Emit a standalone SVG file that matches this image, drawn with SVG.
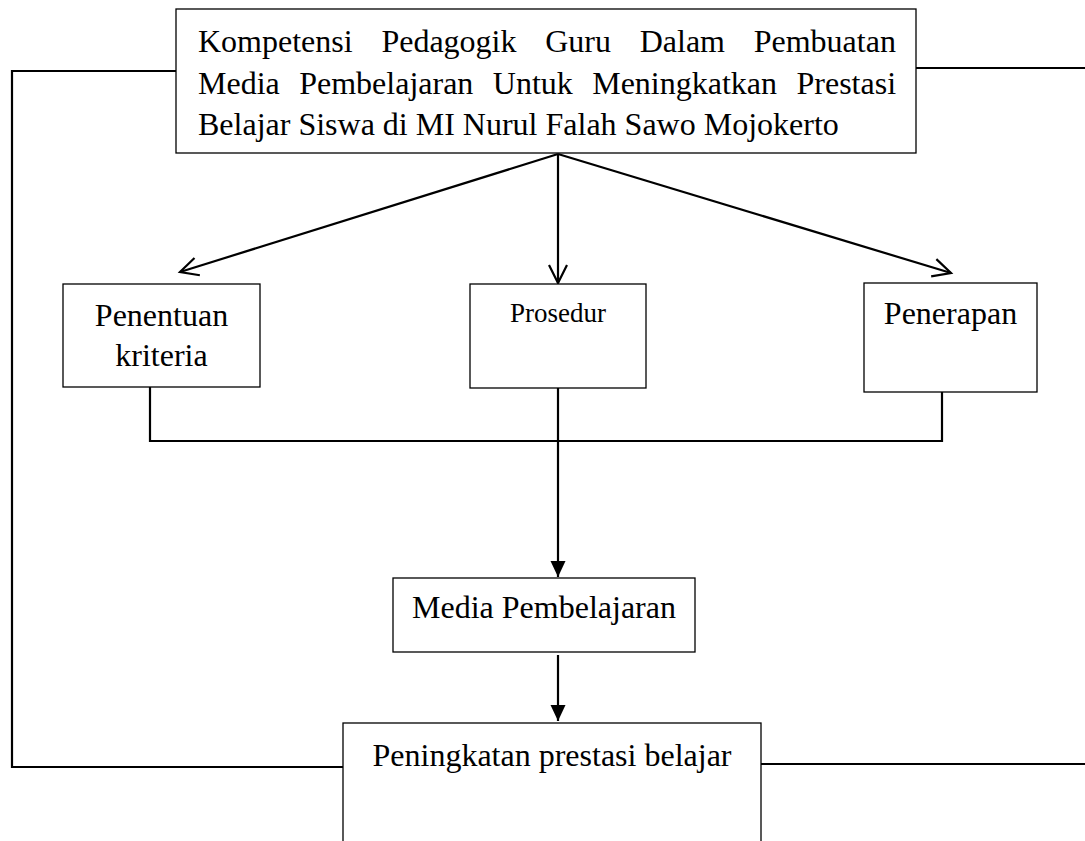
<svg xmlns="http://www.w3.org/2000/svg" width="1085" height="841" viewBox="0 0 1085 841">
<style>
.box{fill:#fff;stroke:#000;stroke-width:1.3}
.t{font-family:"Liberation Serif","Times New Roman",serif;font-size:32px;fill:#000}
.ts{font-family:"Liberation Serif","Times New Roman",serif;font-size:27px;fill:#000}
.c{fill:none;stroke:#000;stroke-width:2.2}
</style>
<defs>
<marker id="open" markerWidth="24" markerHeight="24" refX="20" refY="10" orient="auto" markerUnits="userSpaceOnUse" viewBox="0 0 24 20">
<path d="M2,1 L20,10 L2,19" fill="none" stroke="#000" stroke-width="2.2"/>
</marker>
<marker id="fill" markerWidth="16" markerHeight="16" refX="16" refY="8" orient="auto" markerUnits="userSpaceOnUse" viewBox="0 0 16 16">
<path d="M0,0.5 L16,8 L0,15.5 Z" fill="#000"/>
</marker>
</defs>
<g id="connectors">
<polyline class="c" points="176,71 12,71 12,767 343,767"/>
<line class="c" x1="916" y1="68" x2="1085" y2="68"/>
<line class="c" x1="761" y1="764" x2="1085" y2="764"/>
<line class="c" x1="558" y1="154" x2="180" y2="272" marker-end="url(#open)"/>
<line class="c" x1="558" y1="154" x2="558" y2="283" marker-end="url(#open)"/>
<line class="c" x1="558" y1="154" x2="951" y2="273" marker-end="url(#open)"/>
<polyline class="c" points="150,387 150,441 942,441 942,392"/>
<line class="c" x1="558" y1="388" x2="558" y2="577" marker-end="url(#fill)"/>
<line class="c" x1="558" y1="655" x2="558" y2="721" marker-end="url(#fill)"/>
</g>
<g id="top">
<rect class="box" x="176" y="9" width="740" height="144"/>
<text class="t" y="52"><tspan x="198">Kompetensi</tspan><tspan x="381.4">Pedagogik</tspan><tspan x="545.2">Guru</tspan><tspan x="639.7">Dalam</tspan><tspan x="753.7">Pembuatan</tspan></text>
<text class="t" y="94"><tspan x="198">Media</tspan><tspan x="299.2">Pembelajaran</tspan><tspan x="492.8">Untuk</tspan><tspan x="592.2">Meningkatkan</tspan><tspan x="796.5">Prestasi</tspan></text>
<text class="t" x="198" y="135">Belajar Siswa di MI Nurul Falah Sawo Mojokerto</text>
</g>
<g id="penentuan">
<rect class="box" x="63" y="284" width="197" height="103"/>
<text class="t" x="161.5" y="326" text-anchor="middle">Penentuan</text>
<text class="t" x="161.5" y="366" text-anchor="middle">kriteria</text>
</g>
<g id="prosedur">
<rect class="box" x="470" y="284" width="176" height="104"/>
<text class="ts" x="558" y="322" text-anchor="middle">Prosedur</text>
</g>
<g id="penerapan">
<rect class="box" x="864" y="283" width="173" height="109"/>
<text class="t" x="950.5" y="324" text-anchor="middle">Penerapan</text>
</g>
<g id="media">
<rect class="box" x="393" y="578" width="302" height="74"/>
<text class="t" x="544" y="618" text-anchor="middle">Media Pembelajaran</text>
</g>
<g id="peningkatan">
<rect class="box" x="343" y="723" width="418" height="130"/>
<text class="t" x="552" y="766" text-anchor="middle">Peningkatan prestasi belajar</text>
</g>
</svg>
